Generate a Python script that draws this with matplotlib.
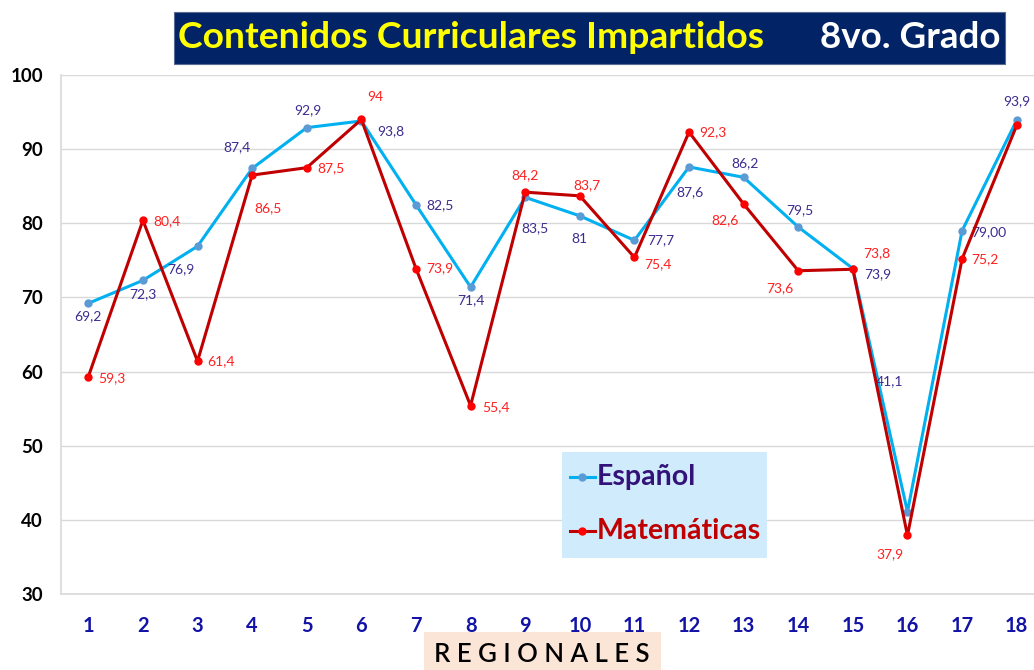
import matplotlib
matplotlib.use("Agg")
import matplotlib.pyplot as plt
from matplotlib.patches import Rectangle
from matplotlib.lines import Line2D

regiones = list(range(1, 19))
espanol = [69.2, 72.3, 76.9, 87.4, 92.9, 93.8, 82.5, 71.4, 83.5, 81, 77.7, 87.6, 86.2, 79.5, 73.9, 41.1, 79.00, 93.9]
espanol_lbl = ["69,2", "72,3", "76,9", "87,4", "92,9", "93,8", "82,5", "71,4", "83,5", "81", "77,7", "87,6", "86,2", "79,5", "73,9", "41,1", "79,00", "93,9"]
matematicas = [59.3, 80.4, 61.4, 86.5, 87.5, 94, 73.9, 55.4, 84.2, 83.7, 75.4, 92.3, 82.6, 73.6, 73.8, 37.9, 75.2, 93.2]
matematicas_lbl = ["59,3", "80,4", "61,4", "86,5", "87,5", "94", "73,9", "55,4", "84,2", "83,7", "75,4", "92,3", "82,6", "73,6", "73,8", "37,9", "75,2", ""]

# label offsets (pixels) relative to each point
esp_off = [(0, -13), (0, -14), (-17, -23), (-15, 21), (1, 17), (29, -10), (24, 0), (0, -13),
           (10, -31), (0, -23), (26, 0), (1, -25), (1, 14), (2, 17), (25, -6), (-18, 131), (27, -1), (0, 19)]
mat_off = [(24, -1), (24, -1), (23, 0), (16, -33), (24, 0), (14, 22), (24, 0), (25, -1),
           (0, 17), (7, 11), (24, -7), (24, 0), (-19, -16), (-18, -17), (24, 16), (-18, -19), (23, 0), (0, 0)]

W, H = 1034, 670
fig = plt.figure(figsize=(W / 100, H / 100), dpi=100)
ax = fig.add_axes([61 / W, (H - 594) / H, (1044 - 61) / W, (594 - 75) / H])

ax.set_xlim(0.5, 18.5)
ax.set_ylim(30, 100)
ax.set_yticks(range(30, 101, 10))
ax.set_xticks(regiones)
ax.grid(axis="y", color="#d9d9d9", linewidth=1)
ax.set_axisbelow(True)
for s in ["top", "right"]:
    ax.spines[s].set_visible(False)
for s in ["left", "bottom"]:
    ax.spines[s].set_color("#d9d9d9")
    ax.spines[s].set_linewidth(1.2)
ax.tick_params(length=0)
ax.tick_params(axis="y", pad=13)
ax.tick_params(axis="x", pad=16)
for t in ax.get_yticklabels():
    t.set_fontfamily("Lato"); t.set_fontweight("bold"); t.set_fontsize(13.5); t.set_color("black")
for t in ax.get_xticklabels():
    t.set_fontfamily("Lato"); t.set_fontweight("bold"); t.set_fontsize(14.5); t.set_color("#1212a6")

ax.plot(regiones, espanol, color="#00b0f0", linewidth=2.2, marker="o", markersize=5,
        markerfacecolor="#5b9bd5", markeredgecolor="#5b9bd5", zorder=3)
ax.plot(regiones, matematicas, color="#c00000", linewidth=2.2, marker="o", markersize=5,
        markerfacecolor="#ff0000", markeredgecolor="#ff0000", zorder=4)

for x, y, l, o in zip(regiones, espanol, espanol_lbl, esp_off):
    ax.annotate(l, (x, y), xytext=o, textcoords="offset pixels", ha="center", va="center",
                fontsize=10, color="#3d2b8f", fontfamily="Lato", annotation_clip=False)
for x, y, l, o in zip(regiones, matematicas, matematicas_lbl, mat_off):
    if l:
        ax.annotate(l, (x, y), xytext=o, textcoords="offset pixels", ha="center", va="center",
                    fontsize=10, color="#ff2020", fontfamily="Lato", annotation_clip=False)

# Title box
fig.patches.append(Rectangle((174 / W, 1 - 64 / H), (1005 - 174) / W, 52 / H,
                             transform=fig.transFigure, facecolor="#022366", edgecolor="#5a6a90", linewidth=0.8))
fig.text(178 / W, 1 - 38 / H, "Contenidos Curriculares Impartidos", color="#ffff00", fontsize=26.8,
         fontweight="bold", fontfamily="Lato", va="center", ha="left")
fig.text(1000 / W, 1 - 38 / H, "8vo. Grado", color="white", fontsize=26.5,
         fontweight="bold", fontfamily="Lato", va="center", ha="right")

# Legend box
fig.patches.append(Rectangle((562 / W, 1 - 558 / H), (767 - 562) / W, 106 / H,
                             transform=fig.transFigure, facecolor="#d0ebfb", edgecolor="none"))
for yy, col, mc, txt, tc in [(477, "#00b0f0", "#5b9bd5", "Español", "#33137a"),
                             (531, "#c00000", "#ff0000", "Matemáticas", "#c00000")]:
    fig.lines.append(Line2D([570 / W, 595 / W], [1 - yy / H, 1 - yy / H], transform=fig.transFigure,
                            color=col, linewidth=2.2, zorder=5))
    fig.lines.append(Line2D([582 / W], [1 - yy / H], transform=fig.transFigure, color=mc,
                            marker="o", markersize=5, linestyle="none", zorder=6))
    fig.text(597 / W, 1 - yy / H, txt, color=tc, fontsize=20.5, fontweight="bold",
             fontfamily="Lato", va="center", ha="left")

# X axis title
fig.patches.append(Rectangle((424 / W, 0), (661 - 424) / W, 38 / H,
                             transform=fig.transFigure, facecolor="#fbe5d6", edgecolor="none"))
fig.text(542 / W, 1 - 654 / H, "R E G I O N A L E S", color="black", fontsize=18.5,
         fontweight="semibold", fontfamily="Lato", va="center", ha="center")

fig.savefig("out.png", dpi=100)
